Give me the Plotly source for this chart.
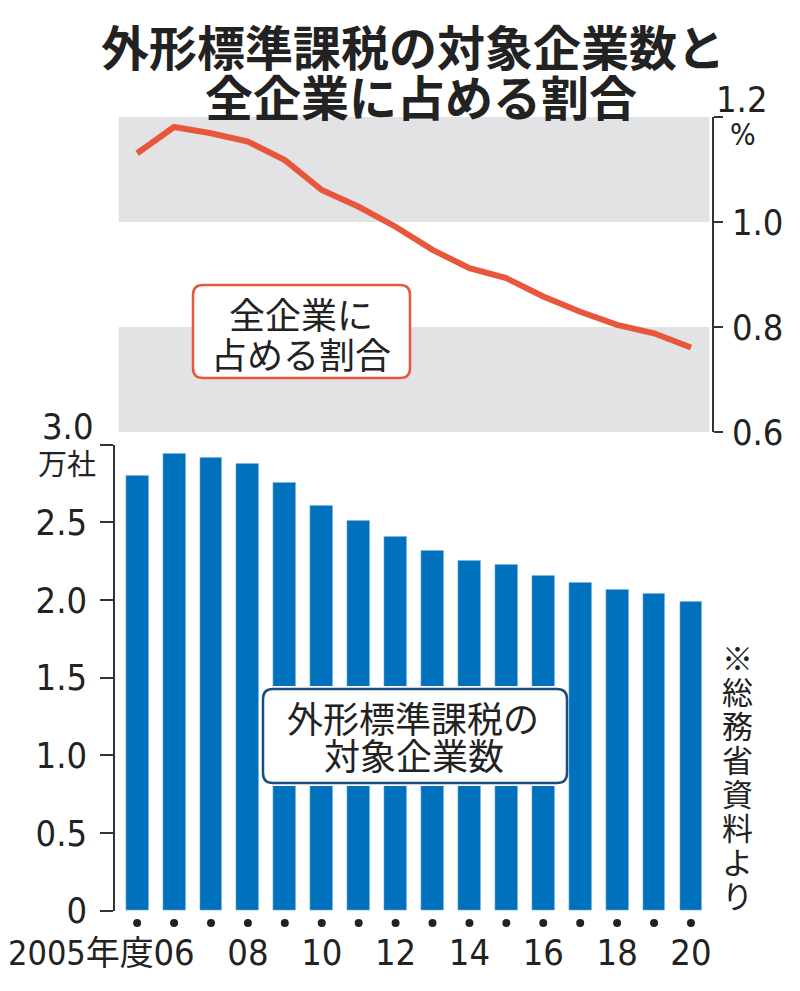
import plotly.graph_objects as go

# data
years = list(range(2005, 2021))
companies = [2.80, 2.945, 2.918, 2.879, 2.757, 2.605, 2.508, 2.408,
             2.315, 2.251, 2.228, 2.157, 2.112, 2.067, 2.039, 1.992]   # 万社
share = [1.131, 1.181, 1.169, 1.153, 1.118, 1.061, 1.029, 0.991,
         0.947, 0.912, 0.893, 0.858, 0.829, 0.804, 0.788, 0.761]      # %
xtick_labels = ["06", "08", "10", "12", "14", "16", "18", "20"]
bar_ticks = [0, 0.5, 1.0, 1.5, 2.0, 2.5, 3.0]
bar_ticktext = ["0", "0.5", "1.0", "1.5", "2.0", "2.5", ""]
line_ticks = [0.6, 0.8, 1.0, 1.2]
line_ticktext = ["0.6", "0.8", "1.0", ""]

BLUE = "#0071BC"
RED = "#E8573C"
NAVY = "#1C4E7C"
GRAY = "#E3E3E5"
TXT = "#222222"
NUM_FONT = "Liberation Sans Narrow, DejaVu Sans Condensed, Noto Sans CJK JP"
JP_FONT = "Noto Sans CJK JP"

#page pixel -> paper helpers (page body adds an 8px offset)
OFF = 8
L, W, H = 107, 597, 991
def fx(px):
    return (px - OFF - L) / W
def fy(py):
    return 1 - (py - OFF) / H

idx = list(range(len(years)))
tick_idx = [years.index(2000 + int(t)) for t in xtick_labels]

fig = go.Figure()
fig.add_trace(go.Bar(x=idx, y=companies, marker_color=BLUE, width=0.62,
                     xaxis="x", yaxis="y", hoverinfo="skip"))
#small dots under each bar, on their own thin strip axis
fig.add_trace(go.Scatter(x=idx, y=[0] * len(idx), mode="markers",
                         marker=dict(color=TXT, size=8), cliponaxis=False,
                         xaxis="x", yaxis="y3", hoverinfo="skip"))
fig.add_trace(go.Scatter(x=idx, y=share, mode="lines",
                         line=dict(color=RED, width=6),
                         xaxis="x2", yaxis="y2", hoverinfo="skip"))

shapes = []
for b0, b1 in [(1.0, 1.2), (0.6, 0.8)]:
    shapes.append(dict(type="rect", xref="x2", yref="y2", x0=-0.5, x1=15.5,
                       y0=b0, y1=b1, fillcolor=GRAY, line_width=0, layer="below"))

def rounded(x0, y0, x1, y1, r):
    rx, ry = r / W, r / H
    a, b, c, d = fx(x0), fy(y0), fx(x1), fy(y1)
    return (f"M{a+rx},{b} L{c-rx},{b} Q{c},{b} {c},{b-ry} L{c},{d+ry} "
            f"Q{c},{d} {c-rx},{d} L{a+rx},{d} Q{a},{d} {a},{d+ry} "
            f"L{a},{b-ry} Q{a},{b} {a+rx},{b} Z")

shapes.append(dict(type="rect", xref="paper", yref="paper", x0=fx(263), x1=fx(567),
                   y0=fy(786), y1=fy(686), fillcolor="white", line_width=0, layer="above"))
shapes.append(dict(type="path", xref="paper", yref="paper", path=rounded(263, 689, 567, 783, 10),
                   fillcolor="white", line=dict(color=NAVY, width=2.5), layer="above"))
shapes.append(dict(type="path", xref="paper", yref="paper", path=rounded(193, 285, 410, 378, 10),
                   fillcolor="white", line=dict(color=RED, width=2.5), layer="above"))

ann = []
def text(px, py, s, size, family=JP_FONT, xanchor="center"):
    ann.append(dict(x=fx(px), y=fy(py), xref="paper", yref="paper", text=s,
                    showarrow=False, xanchor=xanchor, yanchor="middle",
                    font=dict(family=family, size=size, color=TXT)))

text(413, 45, "<b>外形標準課税の対象企業数と</b>", 48)
text(421, 95, "<b>全企業に占める割合</b>", 48)
text(301, 313, "全企業に", 36)
text(301, 353, "占める割合", 36)
text(413, 717, "外形標準課税の", 36)
text(414, 754, "対象企業数", 36)
text(68, 426, "3.0", 36, NUM_FONT)
text(67, 462, "万社", 29)
text(742, 100, "1.2", 36, NUM_FONT)
text(743, 135, "%", 30, NUM_FONT)
text(156, 953, "2005年度", 34, NUM_FONT, xanchor="right")
for i, ch in enumerate("※総務省資料より"):
    text(737, 656 + i * 34, ch, 31)

num_tick = dict(family=NUM_FONT, size=36, color=TXT)
fig.update_layout(
    width=800, height=991,
    margin=dict(l=L, r=800 - L - W, t=0, b=0),
    paper_bgcolor="white", plot_bgcolor="rgba(0,0,0,0)",
    showlegend=False, bargap=0,
    shapes=shapes, annotations=ann,
    xaxis=dict(domain=[0, 1], range=[-0.6, 15.57], anchor="y", automargin=False,
               tickvals=tick_idx, ticktext=xtick_labels, ticks="",
               showline=False, showgrid=False, zeroline=False,
               ticklabelstandoff=17, tickfont=num_tick),
    yaxis=dict(domain=[fy(910.7), fy(444.5)], range=[0, 3.0], anchor="x", automargin=False,
               tickvals=bar_ticks, ticktext=bar_ticktext,
               ticks="outside", ticklen=13, tickwidth=1.5, tickcolor="#333",
               showline=True, linecolor="#333", linewidth=1.5,
               showgrid=False, zeroline=False, ticklabelstandoff=6,
               tickfont=num_tick),
    yaxis3=dict(domain=[fy(933), fy(913)], range=[-1, 1], anchor="x", automargin=False,
                visible=False),
    xaxis2=dict(domain=[0, 1], range=[-0.6, 15.57], anchor="y2", visible=False,
                automargin=False),
    yaxis2=dict(domain=[fy(432), fy(117)], range=[0.6, 1.2], anchor="x2", side="right",
                automargin=False,
                tickvals=line_ticks, ticktext=line_ticktext,
                ticks="outside", ticklen=9, tickwidth=1.5, tickcolor="#333",
                showline=True, linecolor="#333", linewidth=1.5,
                showgrid=False, zeroline=False, ticklabelstandoff=2,
                tickfont=num_tick),
)

fig.write_html("out.html")
